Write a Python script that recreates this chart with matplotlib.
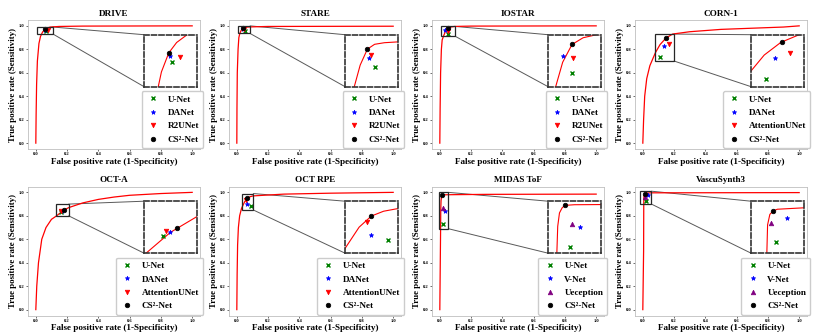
import numpy as np
import matplotlib
matplotlib.use('Agg')
import matplotlib.pyplot as plt
from matplotlib.patches import Rectangle, ConnectionPatch

plt.rcParams['font.family'] = ['Liberation Serif', 'DejaVu Serif']
plt.rcParams['font.weight'] = 'bold'
plt.rcParams['axes.labelweight'] = 'bold'
plt.rcParams['axes.titleweight'] = 'bold'

# ROC curves and operating points
# ----------------------------------------------------

drive_fpr = [0, 0.002, 0.005, 0.01, 0.02, 0.03, 0.037, 0.043, 0.057, 0.072, 0.092, 0.15, 0.3, 1.0]
drive_tpr = [0, 0.25, 0.5, 0.7, 0.85, 0.91, 0.93, 0.947, 0.969, 0.981, 0.99, 0.995, 0.998, 1.0]
drive_box = (0.01, 0.11, 0.93, 0.99)
drive_models = ['U-Net', 'DANet', 'R2UNet', 'CS²-Net']
drive_x = [0.063, 0.060, 0.079, 0.057]
drive_y = [0.958, 0.965, 0.964, 0.969]

stare_fpr = [0, 0.001, 0.003, 0.008, 0.013, 0.019, 0.028, 0.039, 0.05, 0.065, 0.085, 0.2, 1.0]
stare_tpr = [0, 0.3, 0.6, 0.8, 0.9, 0.935, 0.962, 0.982, 0.988, 0.99, 0.991, 0.995, 0.997]
stare_box = (0.005, 0.085, 0.935, 1.0)
stare_models = ['U-Net', 'DANet', 'R2UNet', 'CS²-Net']
stare_x = [0.051, 0.042, 0.044, 0.039]
stare_y = [0.959, 0.971, 0.975, 0.982]

iostar_fpr = [0, 0.002, 0.005, 0.01, 0.015, 0.023, 0.035, 0.051, 0.07, 0.093, 0.2, 1.0]
iostar_tpr = [0, 0.3, 0.6, 0.8, 0.88, 0.91, 0.95, 0.979, 0.99, 0.995, 0.998, 1.0]
iostar_box = (0.01, 0.10, 0.91, 0.995)
iostar_models = ['U-Net', 'DANet', 'R2UNet', 'CS²-Net']
iostar_x = [0.051, 0.036, 0.053, 0.051]
iostar_y = [0.932, 0.961, 0.957, 0.979]

corn_fpr = [0, 0.005, 0.012, 0.025, 0.045, 0.08, 0.11, 0.148, 0.19, 0.3, 0.5, 0.7, 0.9, 1.0]
corn_tpr = [0, 0.2, 0.4, 0.55, 0.66, 0.77, 0.84, 0.896, 0.93, 0.95, 0.97, 0.98, 0.99, 1.0]
corn_box = (0.08, 0.20, 0.70, 0.93)
corn_models = ['U-Net', 'DANet', 'AttentionUNet', 'CS²-Net']
corn_x = [0.113, 0.135, 0.169, 0.150]
corn_y = [0.734, 0.828, 0.847, 0.897]

octa_fpr = [0, 0.003, 0.006, 0.017, 0.038, 0.065, 0.1, 0.133, 0.17, 0.21, 0.3, 0.4, 0.5, 0.6, 0.8, 1.0]
octa_tpr = [0, 0.1, 0.2, 0.4, 0.6, 0.7, 0.77, 0.8, 0.84, 0.87, 0.91, 0.94, 0.96, 0.975, 0.99, 1.0]
octa_box = (0.13, 0.21, 0.80, 0.90)
octa_models = ['U-Net', 'DANet', 'AttentionUNet', 'CS²-Net']
octa_x = [0.159, 0.170, 0.163, 0.180]
octa_y = [0.834, 0.841, 0.843, 0.849]

rpe_fpr = [0, 0.002, 0.005, 0.01, 0.018, 0.03, 0.05, 0.0675, 0.085, 0.105, 0.3, 0.6, 1.0]
rpe_tpr = [0, 0.3, 0.55, 0.7, 0.8, 0.863, 0.92, 0.95, 0.963, 0.97, 0.985, 0.993, 1.0]
rpe_box = (0.03, 0.105, 0.85, 0.99)
rpe_models = ['U-Net', 'DANet', 'AttentionUNet', 'CS²-Net']
rpe_x = [0.092, 0.0675, 0.061, 0.0675]
rpe_y = [0.885, 0.900, 0.933, 0.950]

midas_fpr = [0, 0.005, 0.006, 0.008, 0.011, 0.014, 0.025, 0.055, 0.3, 1.0]
midas_tpr = [0, 0.69, 0.85, 0.93, 0.96, 0.975, 0.979, 0.98, 0.983, 0.985]
midas_box = (-0.005, 0.055, 0.69, 1.0)
midas_models = ['U-Net', 'V-Net', 'Ueception', 'CS²-Net']
midas_x = [0.020, 0.032, 0.022, 0.014]
midas_y = [0.727, 0.845, 0.867, 0.975]

vascu_fpr = [0, 0.005, 0.006, 0.007, 0.01, 0.014, 0.02, 0.055, 1.0]
vascu_tpr = [0, 0.5, 0.9, 0.96, 0.982, 0.989, 0.993, 0.996, 0.998]
vascu_box = (-0.015, 0.055, 0.90, 1.01)
vascu_models = ['U-Net', 'V-Net', 'Ueception', 'CS²-Net']
vascu_x = [0.018, 0.033, 0.012, 0.014]
vascu_y = [0.924, 0.974, 0.964, 0.989]

titles = ['DRIVE', 'STARE', 'IOSTAR', 'CORN-1', 'OCT-A', 'OCT RPE', 'MIDAS ToF', 'VascuSynth3']

panels = [
    (drive_fpr, drive_tpr, drive_box, drive_models, drive_x, drive_y),
    (stare_fpr, stare_tpr, stare_box, stare_models, stare_x, stare_y),
    (iostar_fpr, iostar_tpr, iostar_box, iostar_models, iostar_x, iostar_y),
    (corn_fpr, corn_tpr, corn_box, corn_models, corn_x, corn_y),
    (octa_fpr, octa_tpr, octa_box, octa_models, octa_x, octa_y),
    (rpe_fpr, rpe_tpr, rpe_box, rpe_models, rpe_x, rpe_y),
    (midas_fpr, midas_tpr, midas_box, midas_models, midas_x, midas_y),
    (vascu_fpr, vascu_tpr, vascu_box, vascu_models, vascu_x, vascu_y),
]

styles = {
    'U-Net': ('x', 'green'),
    'DANet': ('*', 'blue'),
    'V-Net': ('*', 'blue'),
    'R2UNet': ('v', 'red'),
    'AttentionUNet': ('v', 'red'),
    'Ueception': ('^', 'purple'),
    'CS²-Net': ('o', 'black'),
}

# Figure
# ----------------------------------------------------

W, H = 830, 334
fig = plt.figure(figsize=(W / 100, H / 100), dpi=100)

lefts = [28, 229, 432, 635]
bottoms = [H - 149, H - 315.5]
aw, ah = 172, 129


def draw_points(a, models, xs, ys):
    for m, x, y in zip(models, xs, ys):
        mk, col = styles[m]
        a.plot(x, y, linestyle='none', marker=mk, color=col, ms=3.3,
               mew=1.0 if mk == 'x' else 0.5, label=m)


for i, (fpr, tpr, box, models, xs, ys) in enumerate(panels):
    r, c = divmod(i, 4)
    ax = fig.add_axes([lefts[c] / W, bottoms[r] / H, aw / W, ah / H])
    ax.plot(fpr, tpr, color='red', lw=0.9)
    draw_points(ax, models, xs, ys)
    ax.set_xlim(-0.05, 1.05)
    ax.set_ylim(-0.05, 1.05)
    ax.set_xticks(np.linspace(0, 1, 6))
    ax.set_yticks(np.linspace(0, 1, 6))
    ax.tick_params(labelsize=3.3, length=1.5, width=0.4, pad=1)
    for s in ax.spines.values():
        s.set_edgecolor('0.75')
        s.set_linewidth(0.6)
    ax.set_title(titles[i], fontsize=6.6, pad=3)
    ax.set_xlabel('False positive rate (1-Specificity)', fontsize=6.6, labelpad=1)
    ax.set_ylabel('True positive rate (Sensitivity)', fontsize=6.4, labelpad=1)

    # zoomed inset
    x0, x1, y0, y1 = box
    axins = ax.inset_axes([0.675, 0.483, 0.305, 0.403])
    axins.plot(fpr, tpr, color='red', lw=0.8)
    draw_points(axins, models, xs, ys)
    axins.set_xlim(x0, x1)
    axins.set_ylim(y0, y1)
    axins.set_xticks([])
    axins.set_yticks([])
    for s in axins.spines.values():
        s.set_linestyle((0, (3, 1.5)))
        s.set_linewidth(1.2)
        s.set_edgecolor('0.2')

    ax.add_patch(Rectangle((x0, y0), x1 - x0, y1 - y0, fill=False,
                           ec='0.15', lw=0.9, zorder=4))
    for ya, yb in [(y1, 1), (y0, 0)]:
        con = ConnectionPatch(xyA=(x1, ya), coordsA=ax.transData,
                              xyB=(0, yb), coordsB=axins.transAxes,
                              color='0.35', lw=0.7)
        ax.add_artist(con)

    ax.legend(loc='lower right', bbox_to_anchor=(1.025, 0.0),
              prop={'size': 6.6, 'weight': 'bold'},
              labelspacing=0.55, handletextpad=0.8, borderpad=0.45,
              handlelength=1.6, borderaxespad=0.1, framealpha=1,
              edgecolor='0.8')

fig.savefig('out.png', dpi=100)
